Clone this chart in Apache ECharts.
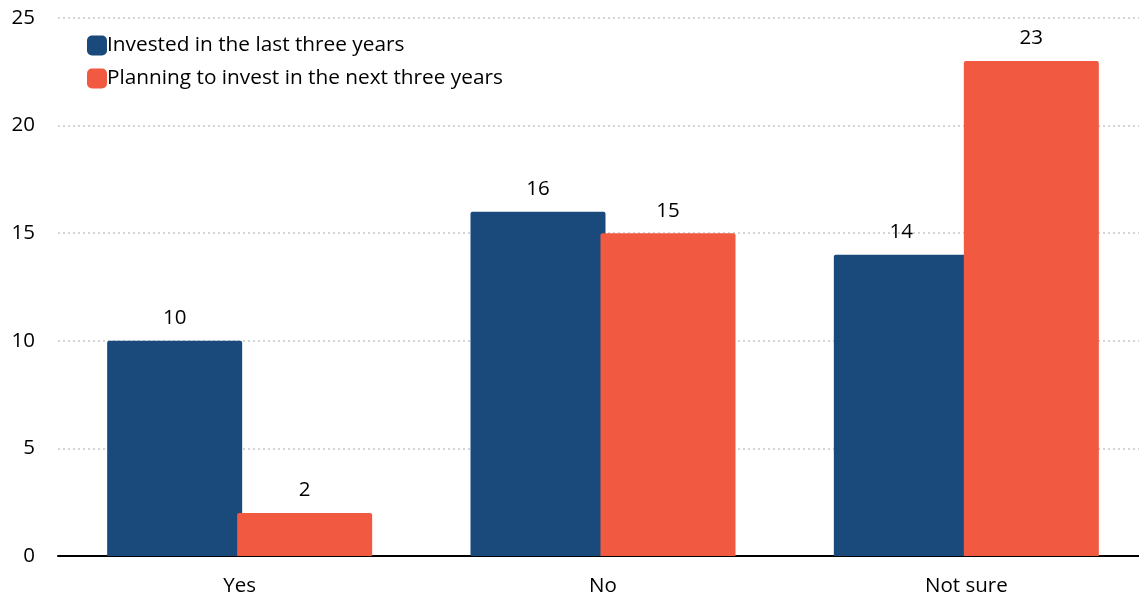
<!DOCTYPE html>
<html>
<head>
<meta charset="utf-8">
<script src="https://cdn.jsdelivr.net/npm/echarts@6/dist/echarts.min.js"></script>
<style>
  html, body { margin: 0; padding: 0; background: #ffffff; }
  #chart { width: 1139px; height: 598px; }
</style>
</head>
<body>
<div id="chart"></div>
<script>
// Survey answers by category
const categories = ['Yes', 'No', 'Not sure'];
const investedLast3 = [10, 16, 14];
const planningNext3 = [2, 15, 23];
const seriesNames = ['Invested in the last three years', 'Planning to invest in the next three years'];

const FONT = '"Open Sans", Lato, sans-serif';
const FONT_SIZE = 20.5;
const BLUE = '#194A7B';
const ORANGE = '#F15A40';

const chart = echarts.init(document.getElementById('chart'));

function barSeries(name, data, color) {
  return {
    name: name,
    type: 'bar',
    data: data,
    barWidth: 135,
    barGap: '-3.7%',
    itemStyle: { color: color, borderRadius: [2, 2, 0, 0] },
    label: {
      show: true,
      position: 'top',
      distance: 12,
      color: '#000',
      fontSize: FONT_SIZE,
      fontFamily: FONT
    }
  };
}

chart.setOption({
  animation: false,
  backgroundColor: '#ffffff',
  grid: { left: 58, right: -9, top: 18, bottom: 42, outerBoundsMode: 'none', containLabel: false },
  legend: {
    orient: 'vertical',
    left: 82,
    top: 30,
    itemWidth: 20,
    itemHeight: 20,
    itemGap: 12,
    icon: 'roundRect',
    textStyle: { fontSize: 20.8, color: '#000', fontFamily: FONT, padding: [0, 0, 0, -5] },
    data: seriesNames
  },
  xAxis: {
    type: 'category',
    data: categories,
    axisLine: { lineStyle: { color: '#000', width: 2 } },
    axisTick: { show: false },
    axisLabel: { fontSize: FONT_SIZE, color: '#000', fontFamily: FONT, margin: 20 }
  },
  yAxis: {
    type: 'value',
    min: 0,
    max: 25,
    interval: 5,
    axisLine: { show: false },
    axisTick: { show: false },
    axisLabel: { fontSize: FONT_SIZE, color: '#000', fontFamily: FONT, margin: 23 },
    splitLine: { lineStyle: { color: '#c8c8c8', type: [2, 3], width: 1.5 } }
  },
  series: [
    barSeries(seriesNames[0], investedLast3, BLUE),
    barSeries(seriesNames[1], planningNext3, ORANGE)
  ]
});
</script>
</body>
</html>
